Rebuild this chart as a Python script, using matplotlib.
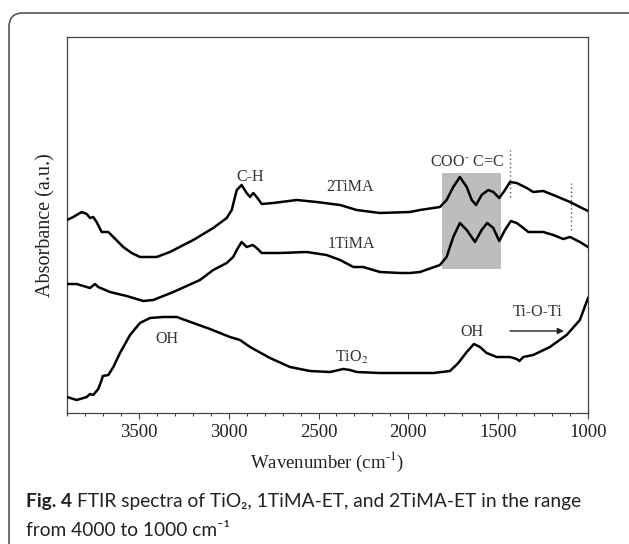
import matplotlib
matplotlib.use("Agg")
import matplotlib.pyplot as plt
from matplotlib.patches import FancyBboxPatch, Rectangle
from matplotlib.transforms import IdentityTransform

plt.rcParams['font.family'] = ['Liberation Serif', 'DejaVu Serif']
plt.rcParams['mathtext.fontset'] = 'stix'

# spectra (wavenumber in cm-1, absorbance in a.u.)
wn_2tima = [3900, 3865, 3818, 3790, 3772, 3754, 3735, 3707, 3670, 3642, 3587, 3540, 3494,
            3401, 3327, 3197, 3086, 3011, 2983, 2955, 2928, 2900, 2881, 2863, 2844, 2816,
            2752, 2621, 2510, 2380, 2288, 2158, 1991, 1935, 1824, 1787, 1750, 1713, 1675,
            1647, 1623, 1592, 1555, 1527, 1494, 1462, 1434, 1397, 1341, 1305, 1249, 1193,
            1100, 1045, 1000]
abs_2tima = [1.93, 1.96, 2.01, 1.99, 1.95, 1.96, 1.91, 1.81, 1.81, 1.76, 1.66, 1.60, 1.56,
             1.56, 1.61, 1.73, 1.85, 1.95, 2.03, 2.23, 2.28, 2.20, 2.16, 2.20, 2.16, 2.09,
             2.10, 2.13, 2.11, 2.08, 2.03, 2.00, 2.01, 2.03, 2.06, 2.13, 2.26, 2.36, 2.26,
             2.13, 2.08, 2.18, 2.23, 2.21, 2.15, 2.23, 2.31, 2.30, 2.25, 2.21, 2.22, 2.18,
             2.11, 2.06, 2.02]

wn_1tima = [3900, 3846, 3772, 3744, 3726, 3661, 3568, 3475, 3420, 3308, 3197, 3160, 3086,
            3011, 2975, 2955, 2928, 2900, 2866, 2844, 2816, 2714, 2566, 2455, 2380, 2306,
            2251, 2158, 2047, 1991, 1935, 1824, 1787, 1750, 1713, 1675, 1629, 1592, 1561,
            1527, 1494, 1462, 1429, 1397, 1360, 1332, 1249, 1193, 1138, 1100, 1045, 1000]
abs_1tima = [1.29, 1.29, 1.25, 1.29, 1.26, 1.21, 1.17, 1.12, 1.13, 1.21, 1.30, 1.33, 1.43,
             1.50, 1.56, 1.63, 1.71, 1.66, 1.68, 1.65, 1.60, 1.60, 1.61, 1.58, 1.53, 1.46,
             1.46, 1.41, 1.40, 1.40, 1.41, 1.48, 1.56, 1.76, 1.90, 1.83, 1.71, 1.83, 1.90,
             1.85, 1.72, 1.83, 1.92, 1.90, 1.85, 1.81, 1.81, 1.78, 1.74, 1.76, 1.71, 1.66]

wn_tio2 = [3900, 3846, 3790, 3772, 3754, 3726, 3707, 3701, 3670, 3642, 3605, 3549, 3494,
           3438, 3364, 3289, 3197, 3104, 2993, 2937, 2881, 2770, 2659, 2547, 2436, 2362,
           2325, 2288, 2158, 1991, 1861, 1768, 1722, 1675, 1635, 1601, 1564, 1508, 1434,
           1397, 1382, 1360, 1305, 1212, 1119, 1045, 1000]
abs_tio2 = [0.16, 0.13, 0.16, 0.19, 0.18, 0.24, 0.33, 0.37, 0.38, 0.46, 0.60, 0.78, 0.90,
            0.95, 0.96, 0.96, 0.90, 0.84, 0.76, 0.73, 0.66, 0.55, 0.46, 0.42, 0.41, 0.44,
            0.43, 0.41, 0.40, 0.40, 0.40, 0.42, 0.50, 0.61, 0.69, 0.66, 0.60, 0.56, 0.56,
            0.54, 0.52, 0.56, 0.58, 0.66, 0.78, 0.93, 1.15]

# highlighted region and marker lines
box_wn = (1814, 1484)
box_abs = (1.44, 2.40)
dot_lines = [(1434, 2.16, 2.63), (1096, 1.83, 2.30)]

fig = plt.figure(figsize=(6.29, 5.44), dpi=100)
ax = fig.add_axes([0.1065, 0.2408, 0.8283, 0.6912])

ax.add_patch(Rectangle((box_wn[1], box_abs[0]), box_wn[0] - box_wn[1],
                       box_abs[1] - box_abs[0], color='#bdbdbd', lw=0, zorder=1))
for w, a0, a1 in dot_lines:
    ax.plot([w, w], [a0, a1], ls=(0, (1, 2)), color='#555555', lw=1.0, zorder=2)

for wn, ab in [(wn_2tima, abs_2tima), (wn_1tima, abs_1tima), (wn_tio2, abs_tio2)]:
    ax.plot(wn, ab, color='black', lw=1.8, solid_joinstyle='round', zorder=3)

tc = '#333333'
fs = 11.5
ax.text(2881, 2.36, 'C-H', ha='center', va='center', fontsize=fs, color=tc)
ax.text(2325, 2.26, '2TiMA', ha='center', va='center', fontsize=fs, color=tc)
ax.text(2315, 1.69, '1TiMA', ha='center', va='center', fontsize=fs, color=tc)
ax.text(1675, 2.51, r'COO$^{\text{-}}$ C=C', ha='center', va='center', fontsize=fs, color=tc)
ax.text(3345, 0.74, 'OH', ha='center', va='center', fontsize=fs, color=tc)
ax.text(2315, 0.56, r'TiO$_2$', ha='center', va='center', fontsize=fs, color=tc)
ax.text(1647, 0.81, 'OH', ha='center', va='center', fontsize=fs, color=tc)
ax.text(1282, 1.01, 'Ti-O-Ti', ha='center', va='center', fontsize=fs, color=tc)
ax.annotate('', xy=(1134, 0.82), xytext=(1434, 0.82),
            arrowprops=dict(arrowstyle='-|>', color='#222222', lw=1.0,
                            mutation_scale=9, shrinkA=0, shrinkB=0))

ax.set_xlim(3900, 1000)
ax.set_ylim(0, 3.76)
ax.set_xticks([3500, 3000, 2500, 2000, 1500, 1000])
ax.set_xticks(range(1000, 3901, 100), minor=True)
ax.set_yticks([])
ax.tick_params(axis='x', which='major', direction='out', length=4, width=0.8,
               labelsize=13.5, labelcolor='#222222', pad=4, color='#444444')
ax.tick_params(axis='x', which='minor', direction='out', length=2.2, width=0.8,
               color='#444444')
for s in ax.spines.values():
    s.set_linewidth(0.9)
    s.set_color('#444444')

ax.set_xlabel(r'Wavenumber (cm$^{\text{-1}}$)', fontsize=13.5, color='#222222', labelpad=6)
ax.set_ylabel('Absorbance (a.u.)', fontsize=14.5, color='#222222', labelpad=8)

# caption below the chart
cap_font = ['Lato', 'DejaVu Sans']
cap_fs = 13.8
t1 = fig.text(26 / 629, 1 - 502 / 544, 'Fig. 4', fontsize=cap_fs, fontweight='bold',
              family=cap_font, va='center', color='#222222')
fig.canvas.draw()
bb = t1.get_window_extent()
fig.text(bb.x1 / fig.bbox.width + 0.008, 1 - 502 / 544,
         'FTIR spectra of TiO\u2082, 1TiMA-ET, and 2TiMA-ET in the range',
         fontsize=cap_fs, family=cap_font, va='center', color='#222222')
fig.text(26 / 629, 1 - 530 / 544, 'from 4000 to 1000 cm\u207b\u00b9', fontsize=cap_fs,
         family=cap_font, va='center', color='#222222')

# rounded frame around figure and caption
fig.add_artist(FancyBboxPatch((9, -30), 660, 544 - 13 + 30,
                              boxstyle='round,pad=0,rounding_size=14',
                              transform=IdentityTransform(), fill=False,
                              ec='#555555', lw=1.2))

fig.savefig('out.png', dpi=100)
